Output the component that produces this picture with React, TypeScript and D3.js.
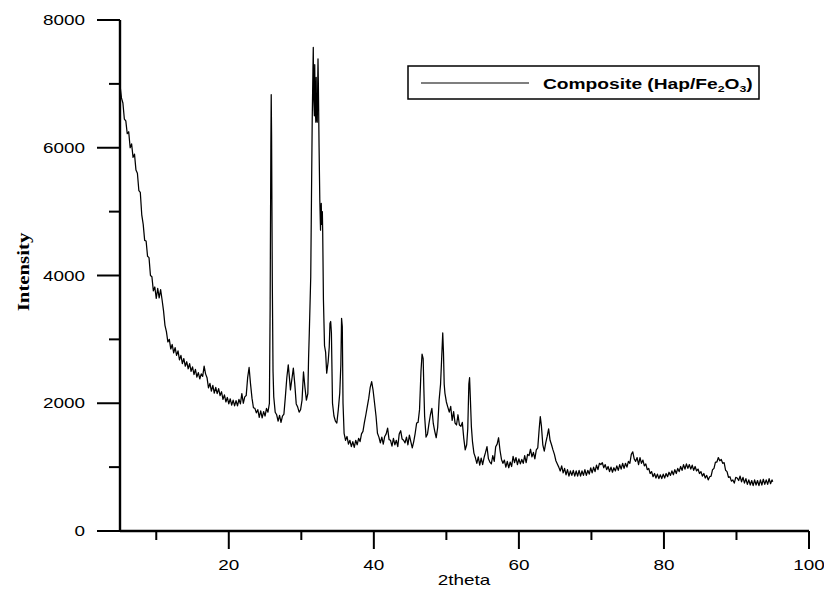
import React from "react";
import * as d3 from "d3";

// [2theta, intensity]
const pattern: [number, number][] = [
  [5.0, 6980], [5.2, 6780], [5.4, 6700], [5.6, 6450], [5.8, 6420], [6.0, 6220], [6.2, 6250], [6.4, 6000],
  [6.6, 6060], [6.8, 5850], [7.0, 5900], [7.2, 5650], [7.4, 5600], [7.6, 5330], [7.8, 5300], [8.0, 4950],
  [8.2, 4800], [8.4, 4550], [8.6, 4540], [8.8, 4300], [9.0, 4280], [9.2, 4000], [9.4, 3980], [9.6, 3760],
  [9.8, 3820], [10.0, 3640], [10.2, 3800], [10.4, 3650], [10.6, 3780], [10.8, 3620], [11.0, 3450], [11.2, 3220],
  [11.4, 3120], [11.6, 2960], [11.8, 3000], [12.0, 2850], [12.2, 2920], [12.4, 2790], [12.6, 2870], [12.8, 2750],
  [13.0, 2820], [13.2, 2680], [13.4, 2750], [13.6, 2620], [13.8, 2700], [14.0, 2580], [14.2, 2650], [14.4, 2540],
  [14.6, 2620], [14.8, 2500], [15.0, 2570], [15.2, 2450], [15.4, 2530], [15.6, 2410], [15.8, 2480], [16.0, 2380],
  [16.2, 2460], [16.4, 2420], [16.6, 2580], [16.8, 2460], [17.0, 2400], [17.2, 2240], [17.4, 2310], [17.6, 2190],
  [17.8, 2280], [18.0, 2160], [18.2, 2250], [18.4, 2150], [18.6, 2230], [18.8, 2120], [19.0, 2180], [19.2, 2060],
  [19.4, 2130], [19.6, 2020], [19.8, 2090], [20.0, 1990], [20.2, 2070], [20.4, 1970], [20.6, 2050], [20.8, 1960],
  [21.0, 2040], [21.2, 1960], [21.4, 2060], [21.6, 1990], [21.8, 2150], [22.0, 2000], [22.2, 2100], [22.4, 2120],
  [22.6, 2400], [22.8, 2560], [23.0, 2300], [23.2, 2080], [23.4, 1930], [23.6, 1920], [23.8, 1850], [24.0, 1900],
  [24.2, 1780], [24.4, 1880], [24.6, 1770], [24.8, 1870], [25.0, 1800], [25.2, 1920], [25.4, 1860], [25.6, 2000],
  [25.7, 3500], [25.8, 6000], [25.85, 6830], [25.9, 6200], [26.0, 3900], [26.1, 2500], [26.2, 2100], [26.4, 1860],
  [26.6, 1820], [26.8, 1720], [27.0, 1810], [27.2, 1700], [27.4, 1800], [27.6, 1830], [27.8, 2100], [28.0, 2400],
  [28.2, 2600], [28.4, 2350], [28.5, 2210], [28.7, 2380], [28.9, 2550], [29.1, 2300], [29.3, 1990], [29.5, 1940],
  [29.7, 1860], [29.9, 1900], [30.1, 2050], [30.3, 2490], [30.5, 2250], [30.7, 2050], [30.9, 2150], [31.0, 2700],
  [31.1, 3100], [31.3, 3980], [31.4, 5200], [31.5, 6400], [31.6, 7200], [31.65, 7570], [31.7, 6800], [31.8, 6500],
  [31.85, 7300], [31.9, 6700], [32.0, 6400], [32.05, 7100], [32.1, 6500], [32.2, 6400], [32.3, 7390], [32.35, 7000],
  [32.45, 6000], [32.55, 5180], [32.65, 4710], [32.75, 5130], [32.8, 4800], [32.9, 5000], [32.95, 4670], [33.05, 3620],
  [33.2, 2900], [33.35, 2800], [33.5, 2470], [33.7, 2650], [33.85, 2880], [33.95, 3250], [34.05, 3280], [34.15, 3100],
  [34.3, 2000], [34.5, 1800], [34.7, 1720], [34.9, 1690], [35.1, 1900], [35.3, 2160], [35.45, 2600], [35.55, 3330],
  [35.65, 3200], [35.75, 2000], [35.9, 1530], [36.1, 1420], [36.3, 1480], [36.5, 1360], [36.7, 1420], [36.9, 1320],
  [37.1, 1400], [37.3, 1310], [37.5, 1420], [37.7, 1350], [37.9, 1450], [38.1, 1400], [38.3, 1520], [38.5, 1560],
  [38.7, 1700], [38.9, 1820], [39.1, 1950], [39.3, 2080], [39.5, 2250], [39.7, 2340], [39.9, 2200], [40.1, 2000],
  [40.3, 1800], [40.5, 1530], [40.7, 1470], [40.9, 1380], [41.1, 1470], [41.3, 1360], [41.5, 1480], [41.7, 1520],
  [41.9, 1610], [42.1, 1430], [42.3, 1420], [42.5, 1330], [42.7, 1450], [42.9, 1350], [43.1, 1420], [43.3, 1320],
  [43.5, 1520], [43.7, 1570], [43.9, 1440], [44.1, 1420], [44.3, 1380], [44.5, 1470], [44.7, 1350], [44.9, 1500],
  [45.1, 1400], [45.3, 1300], [45.5, 1400], [45.7, 1530], [45.9, 1690], [46.1, 1700], [46.3, 1900], [46.5, 2500],
  [46.65, 2770], [46.8, 2700], [46.9, 2210], [47.0, 1800], [47.2, 1470], [47.4, 1520], [47.6, 1680], [47.8, 1820],
  [48.0, 1920], [48.2, 1680], [48.4, 1560], [48.6, 1460], [48.8, 1620], [49.0, 2050], [49.2, 2300], [49.35, 2700],
  [49.5, 3100], [49.6, 2800], [49.7, 2300], [49.8, 2160], [50.0, 2020], [50.2, 1940], [50.4, 1860], [50.6, 1950],
  [50.8, 1730], [51.0, 1870], [51.2, 1690], [51.4, 1660], [51.6, 1820], [51.8, 1660], [52.0, 1640], [52.2, 1700],
  [52.4, 1450], [52.6, 1270], [52.8, 1350], [52.95, 1600], [53.1, 2300], [53.2, 2400], [53.3, 2100], [53.45, 1630],
  [53.6, 1400], [53.8, 1220], [54.0, 1150], [54.2, 1060], [54.4, 1160], [54.6, 1030], [54.8, 1140], [55.0, 1040],
  [55.2, 1150], [55.4, 1230], [55.6, 1320], [55.8, 1130], [56.0, 1080], [56.2, 1050], [56.4, 1180], [56.6, 1090],
  [56.8, 1320], [57.0, 1360], [57.2, 1460], [57.4, 1260], [57.6, 1120], [57.8, 1060], [58.0, 1110], [58.2, 1000],
  [58.4, 1090], [58.6, 990], [58.8, 1080], [59.0, 1010], [59.2, 1170], [59.4, 1070], [59.6, 1150], [59.8, 1040],
  [60.0, 1130], [60.2, 1050], [60.4, 1120], [60.6, 1060], [60.8, 1180], [61.0, 1070], [61.2, 1200], [61.4, 1180],
  [61.6, 1280], [61.8, 1160], [62.0, 1230], [62.2, 1130], [62.4, 1270], [62.6, 1300], [62.8, 1600], [62.95, 1790],
  [63.1, 1650], [63.3, 1350], [63.5, 1250], [63.7, 1380], [63.9, 1480], [64.1, 1600], [64.3, 1420], [64.5, 1350],
  [64.7, 1270], [64.9, 1200], [65.1, 1100], [65.3, 1050], [65.5, 1000], [65.7, 940], [65.9, 1020], [66.1, 910],
  [66.3, 980], [66.5, 880], [66.7, 960], [66.9, 860], [67.1, 940], [67.3, 870], [67.5, 950], [67.7, 860],
  [67.9, 940], [68.1, 860], [68.3, 950], [68.5, 860], [68.7, 940], [68.9, 870], [69.1, 960], [69.3, 870],
  [69.5, 950], [69.7, 890], [69.9, 990], [70.1, 910], [70.3, 1000], [70.5, 930], [70.7, 1030], [70.9, 960],
  [71.1, 1060], [71.3, 1040], [71.5, 1070], [71.7, 990], [71.9, 1040], [72.1, 960], [72.3, 1010], [72.5, 930],
  [72.7, 1000], [72.9, 920], [73.1, 990], [73.3, 940], [73.5, 1020], [73.7, 950], [73.9, 1040], [74.1, 970],
  [74.3, 1060], [74.5, 980], [74.7, 1060], [74.9, 1000], [75.1, 1090], [75.3, 1060], [75.5, 1200], [75.7, 1240],
  [75.9, 1130], [76.1, 1090], [76.3, 1150], [76.5, 1040], [76.7, 1150], [76.9, 1060], [77.1, 1110], [77.3, 1020],
  [77.5, 1050], [77.7, 960], [77.9, 980], [78.1, 900], [78.3, 930], [78.5, 850], [78.7, 900], [78.9, 830],
  [79.1, 890], [79.3, 820], [79.5, 880], [79.7, 820], [79.9, 890], [80.1, 830], [80.3, 900], [80.5, 850],
  [80.7, 920], [80.9, 870], [81.1, 940], [81.3, 880], [81.5, 960], [81.7, 900], [81.9, 980], [82.1, 930],
  [82.3, 1010], [82.5, 950], [82.7, 1040], [82.9, 970], [83.1, 1050], [83.3, 980], [83.5, 1040], [83.7, 970],
  [83.9, 1030], [84.1, 950], [84.3, 1010], [84.5, 940], [84.7, 970], [84.9, 900], [85.1, 930], [85.3, 860],
  [85.5, 900], [85.7, 830], [85.9, 870], [86.1, 800], [86.3, 850], [86.5, 860], [86.7, 960], [86.9, 980],
  [87.1, 1080], [87.3, 1080], [87.5, 1150], [87.7, 1100], [87.9, 1120], [88.1, 1060], [88.3, 1070], [88.5, 950],
  [88.7, 930], [88.9, 840], [89.1, 850], [89.3, 780], [89.5, 800], [89.7, 750], [89.9, 840], [90.1, 830],
  [90.3, 790], [90.5, 860], [90.7, 770], [90.9, 840], [91.1, 750], [91.3, 820], [91.5, 730], [91.7, 800],
  [91.9, 720], [92.1, 790], [92.3, 710], [92.5, 800], [92.7, 720], [92.9, 790], [93.1, 710], [93.3, 800],
  [93.5, 720], [93.7, 810], [93.9, 730], [94.1, 800], [94.3, 730], [94.5, 820], [94.7, 740], [94.9, 800],
  [95.0, 770],
];

const xMajorTicks = [20, 40, 60, 80, 100];
const xMinorTicks = [10, 30, 50, 70, 90];
const yMajorTicks = [0, 2000, 4000, 6000, 8000];
const yMinorTicks = [1000, 3000, 5000, 7000];
const xTitle = "2theta";
const yTitle = "Intensity";
const seriesName = "Composite (Hap/Fe";

const W = 824;
const H = 590;
const SX = 1.35; // horizontal text stretch

export default function App() {
  const x = d3.scaleLinear().domain([5, 100]).range([120, 809]);
  const y = d3.scaleLinear().domain([0, 8000]).range([531, 20]);
  const line = d3
    .line<[number, number]>()
    .x((d) => x(d[0]))
    .y((d) => y(d[1]));

  const font = "'Liberation Sans', Arial, sans-serif";

  return (
    <svg
      width={W}
      height={H}
      style={{ position: "absolute", left: 0, top: 0, background: "#fff" }}
    >
      <rect x={0} y={0} width={W} height={H} fill="#fff" />
      <path d={line(pattern) || ""} fill="none" stroke="#000" strokeWidth={1.25} strokeLinejoin="round" />

      {/* axes */}
      <line x1={x(5)} x2={x(5)} y1={y(8000)} y2={y(0)} stroke="#000" strokeWidth={2.4} />
      <line x1={x(5)} x2={x(100)} y1={y(0)} y2={y(0)} stroke="#000" strokeWidth={2.4} />

      {xMajorTicks.map((t) => (
        <g key={"xM" + t}>
          <line x1={x(t)} x2={x(t)} y1={y(0)} y2={y(0) + 18} stroke="#000" strokeWidth={2} />
          <text
            transform={`translate(${x(t)},${570}) scale(${SX},1)`}
            textAnchor="middle"
            fontFamily={font}
            fontSize={14}
            fill="#000"
          >
            {t}
          </text>
        </g>
      ))}
      {xMinorTicks.map((t) => (
        <line key={"xm" + t} x1={x(t)} x2={x(t)} y1={y(0)} y2={y(0) + 9} stroke="#000" strokeWidth={2} />
      ))}

      {yMajorTicks.map((t) => (
        <g key={"yM" + t}>
          <line x1={x(5) - 23} x2={x(5)} y1={y(t)} y2={y(t)} stroke="#000" strokeWidth={2} />
          <text
            transform={`translate(${85},${y(t) + 5}) scale(${SX},1)`}
            textAnchor="end"
            fontFamily={font}
            fontSize={14}
            fill="#000"
          >
            {t}
          </text>
        </g>
      ))}
      {yMinorTicks.map((t) => (
        <line key={"ym" + t} x1={x(5) - 11} x2={x(5)} y1={y(t)} y2={y(t)} stroke="#000" strokeWidth={2} />
      ))}

      {/* axis titles */}
      <text
        transform={`translate(${464},${585}) scale(${SX},1)`}
        textAnchor="middle"
        fontFamily={font}
        fontSize={14}
        fill="#000"
      >
        {xTitle}
      </text>
      <text
        transform={`translate(${29},${272}) rotate(-90) scale(1.3,1)`}
        textAnchor="middle"
        fontFamily="'Liberation Serif', 'Times New Roman', serif"
        fontWeight="bold"
        fontSize={16}
        fill="#000"
      >
        {yTitle}
      </text>

      {/* legend */}
      <rect x={408} y={66} width={351} height={33} fill="#fff" stroke="#000" strokeWidth={1.5} />
      <line x1={421} x2={529} y1={83} y2={83} stroke="#000" strokeWidth={1.1} />
      <text
        transform={`translate(${543},${89}) scale(1.37,1)`}
        fontFamily={font}
        fontWeight="bold"
        fontSize={14}
        fill="#000"
      >
        {seriesName}
        <tspan fontSize={9} dy={3}>2</tspan>
        <tspan dy={-3}>O</tspan>
        <tspan fontSize={9} dy={3}>3</tspan>
        <tspan dy={-3}>)</tspan>
      </text>
    </svg>
  );
}
